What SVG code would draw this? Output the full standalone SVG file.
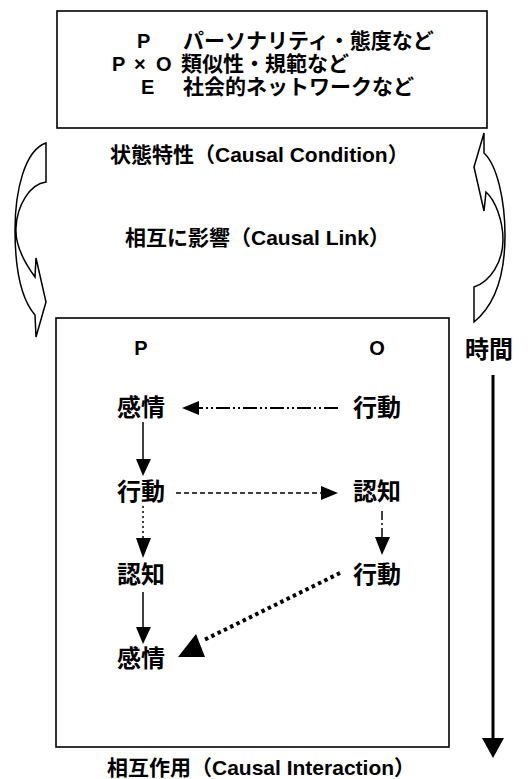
<svg xmlns="http://www.w3.org/2000/svg" width="531" height="779" viewBox="0 0 531 779">
<defs>
<style>
.t{font-family:"Liberation Sans","Noto Sans CJK JP",sans-serif;font-weight:bold;fill:#000}
.s21{font-size:21px}
.s20{font-size:20px}
.n{font-size:24px;text-anchor:middle}
.box{fill:#fff;stroke:#000;stroke-width:1.6}
.ln{fill:none;stroke:#000}
.hd{fill:#000;stroke:none}
.curve{fill:#fff;stroke:#000;stroke-width:1.5;stroke-linejoin:miter}
</style>
</defs>
<rect width="531" height="779" fill="#fff"/>

<g id="condition">
<rect class="box" x="57" y="11" width="430" height="117"/>
<text class="t s20" x="137" y="48">P</text>
<text class="t s21" x="183" y="48">パーソナリティ・態度など</text>
<text class="t s20" x="112 134 156" y="71">P×O</text>
<text class="t s21" x="181" y="71">類似性・規範など</text>
<text class="t s20" x="141" y="94">E</text>
<text class="t s21" x="183" y="94">社会的ネットワークなど</text>
</g>
<g id="condition-label">
<text class="t s21" x="110" y="162">状態特性（Causal Condition）</text>
</g>
<g id="link-label">
<text class="t s21" x="125" y="245">相互に影響（Causal Link）</text>
</g>

<g id="curve-left">
<path class="curve" d="M46,143 L46,182 C30,184 17,205 16,228 C15,245 24,262 35,277 L36,258 L46,302 L36,337 L35,315 C22,300 15,270 15,230 C15,190 25,150 46,143 Z"/>
</g>
<g id="curve-right">
<path class="curve" d="M484,153 C497,165 505,200 505,235 C505,275 495,305 474,322 L474,287 C490,282 503,262 503,240 C503,220 495,200 486,192 L484,211 L474,167 L484,133 Z"/>
</g>

<g id="interaction">
<rect class="box" x="56" y="318" width="393" height="429"/>
<text class="t s20" x="141" y="355" text-anchor="middle">P</text>
<text class="t s20" x="377" y="355" text-anchor="middle">O</text>
</g>
<g id="p-emotion1"><text class="t n" x="141" y="416">感情</text></g>
<g id="o-action1"><text class="t n" x="377" y="416">行動</text></g>
<g id="p-action"><text class="t n" x="141" y="500">行動</text></g>
<g id="o-cognition"><text class="t n" x="377" y="500">認知</text></g>
<g id="p-cognition"><text class="t n" x="141" y="583">認知</text></g>
<g id="o-action2"><text class="t n" x="377" y="583">行動</text></g>
<g id="p-emotion2"><text class="t n" x="141" y="667">感情</text></g>

<g id="interaction-label">
<text class="t s21" x="107" y="775">相互作用（Causal Interaction）</text>
</g>
<g id="time-label">
<text class="t" style="font-size:24px" x="465" y="358">時間</text>
</g>

<g id="connectors">
<line class="ln" x1="338" y1="408" x2="198" y2="408" stroke-width="2" stroke-dasharray="14 3 2 3 2 3"/>
<polygon class="hd" points="182,408 199,401 199,415"/>
<line class="ln" x1="143" y1="422" x2="143" y2="460" stroke-width="1.5"/>
<polygon class="hd" points="136,459 151,459 143,476"/>
<line class="ln" x1="176" y1="493" x2="322" y2="493" stroke-width="1.5" stroke-dasharray="5 3"/>
<polygon class="hd" points="338,493 321,486 321,500"/>
<line class="ln" x1="143" y1="506" x2="143" y2="539" stroke-width="1.5" stroke-dasharray="2 3"/>
<polygon class="hd" points="136,538 151,538 143,558"/>
<line class="ln" x1="382" y1="511" x2="382" y2="538" stroke-width="1.5" stroke-dasharray="9 3 2 3"/>
<polygon class="hd" points="375,537 390,537 382,555"/>
<line class="ln" x1="143" y1="592" x2="143" y2="628" stroke-width="1.5"/>
<polygon class="hd" points="136,627 151,627 143,644"/>
<line class="ln" x1="340" y1="573" x2="204" y2="640" stroke-width="4" stroke-dasharray="3.5 3.5"/>
<polygon class="hd" points="196,634 178,657 205,657"/>
<line class="ln" x1="493" y1="375" x2="493" y2="740" stroke-width="3"/>
<polygon class="hd" points="482,738 504,738 493,758"/>
</g>
</svg>
